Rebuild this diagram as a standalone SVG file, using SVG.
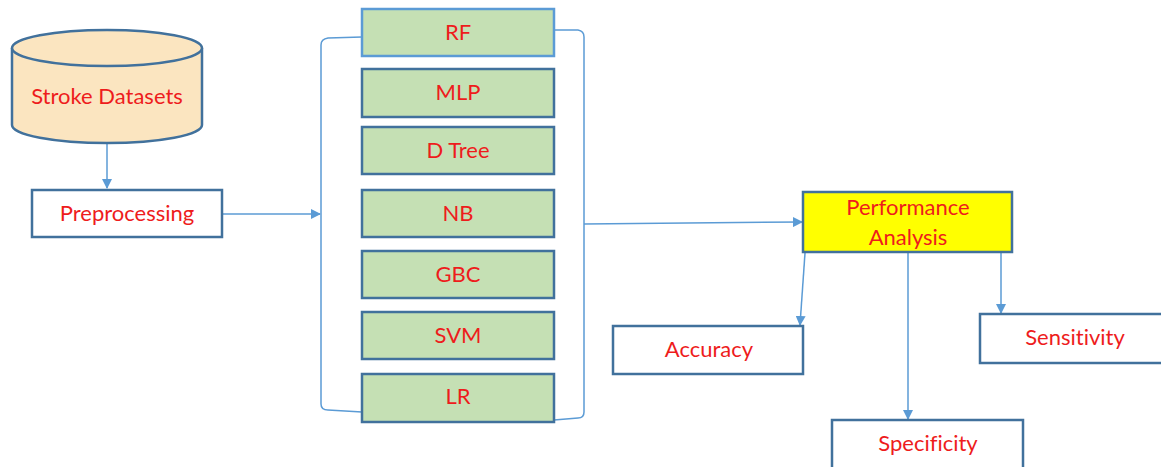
<svg xmlns="http://www.w3.org/2000/svg" width="1161" height="467" viewBox="0 0 1161 467">
<style>
.box{fill:#fff;stroke:#41719c;stroke-width:2.5}
.alg{fill:#c5e0b4;stroke:#41719c;stroke-width:2.5}
.t{font-family:Lato,"Open Sans",sans-serif;font-size:22px;fill:#ee1c1c;text-anchor:middle;dominant-baseline:central;font-variant-ligatures:none}
.c{fill:none;stroke:#5b9bd5;stroke-width:1.5}
</style>
<defs>
<marker id="ah" markerWidth="10" markerHeight="10" refX="9" refY="5" orient="auto" markerUnits="userSpaceOnUse">
<path d="M0,0 L10,5 L0,10 Z" fill="#5b9bd5"/>
</marker>
</defs>
<rect width="1161" height="467" fill="#fff"/>
<g id="connectors">
<line class="c" x1="107" y1="143" x2="107" y2="188" marker-end="url(#ah)"/>
<line class="c" x1="222" y1="214" x2="320" y2="214" marker-end="url(#ah)"/>
<path class="c" d="M362,37 L328,38 Q321,39 321,45 L321,404 Q321,410 328,410 L362,412"/>
<path class="c" d="M554,30 L578,30 Q584,31 584,37 L584,412 Q584,418 578,418 L554,420"/>
<line class="c" x1="584" y1="224" x2="802" y2="222" marker-end="url(#ah)"/>
<line class="c" x1="805" y1="253" x2="800" y2="325" marker-end="url(#ah)"/>
<line class="c" x1="908" y1="253" x2="908" y2="419" marker-end="url(#ah)"/>
<line class="c" x1="1001" y1="253" x2="1001" y2="313" marker-end="url(#ah)"/>
</g>
<g id="stroke-datasets">
<path d="M12,48 L12,125 A95,18 0 0 0 202,125 L202,48" fill="#fbe5c0" stroke="#41719c" stroke-width="2.5"/>
<ellipse cx="107" cy="48" rx="95" ry="18" fill="#fbe5c0" stroke="#41719c" stroke-width="2.5"/>
<text class="t" x="107" y="95">Stroke Datasets</text>
</g>
<g id="preprocessing">
<rect class="box" x="32" y="190" width="190" height="47"/>
<text class="t" x="127" y="212">Preprocessing</text>
</g>
<g id="rf">
<rect class="alg" x="362" y="9" width="192" height="47" style="stroke:#5b9bd5"/>
<text class="t" x="458" y="31">RF</text>
</g>
<g id="mlp">
<rect class="alg" x="362" y="69" width="192" height="48"/>
<text class="t" x="458" y="91">MLP</text>
</g>
<g id="dtree">
<rect class="alg" x="362" y="127" width="192" height="47"/>
<text class="t" x="458" y="149">D Tree</text>
</g>
<g id="nb">
<rect class="alg" x="362" y="190" width="192" height="47"/>
<text class="t" x="458" y="212">NB</text>
</g>
<g id="gbc">
<rect class="alg" x="362" y="251" width="192" height="47"/>
<text class="t" x="458" y="273">GBC</text>
</g>
<g id="svm">
<rect class="alg" x="362" y="312" width="192" height="47"/>
<text class="t" x="458" y="334">SVM</text>
</g>
<g id="lr">
<rect class="alg" x="362" y="374" width="192" height="48"/>
<text class="t" x="458" y="395">LR</text>
</g>
<g id="performance">
<rect x="803" y="192" width="209" height="60" fill="#ffff00" stroke="#41719c" stroke-width="2.5"/>
<text class="t" x="908" y="206">Performance</text>
<text class="t" x="908" y="236">Analysis</text>
</g>
<g id="accuracy">
<rect class="box" x="613" y="326" width="190" height="48"/>
<text class="t" x="709" y="348">Accuracy</text>
</g>
<g id="sensitivity">
<rect class="box" x="980" y="314" width="190" height="49"/>
<text class="t" x="1075" y="336">Sensitivity</text>
</g>
<g id="specificity">
<rect class="box" x="832" y="420" width="191" height="52"/>
<text class="t" x="928" y="442">Specificity</text>
</g>
</svg>
